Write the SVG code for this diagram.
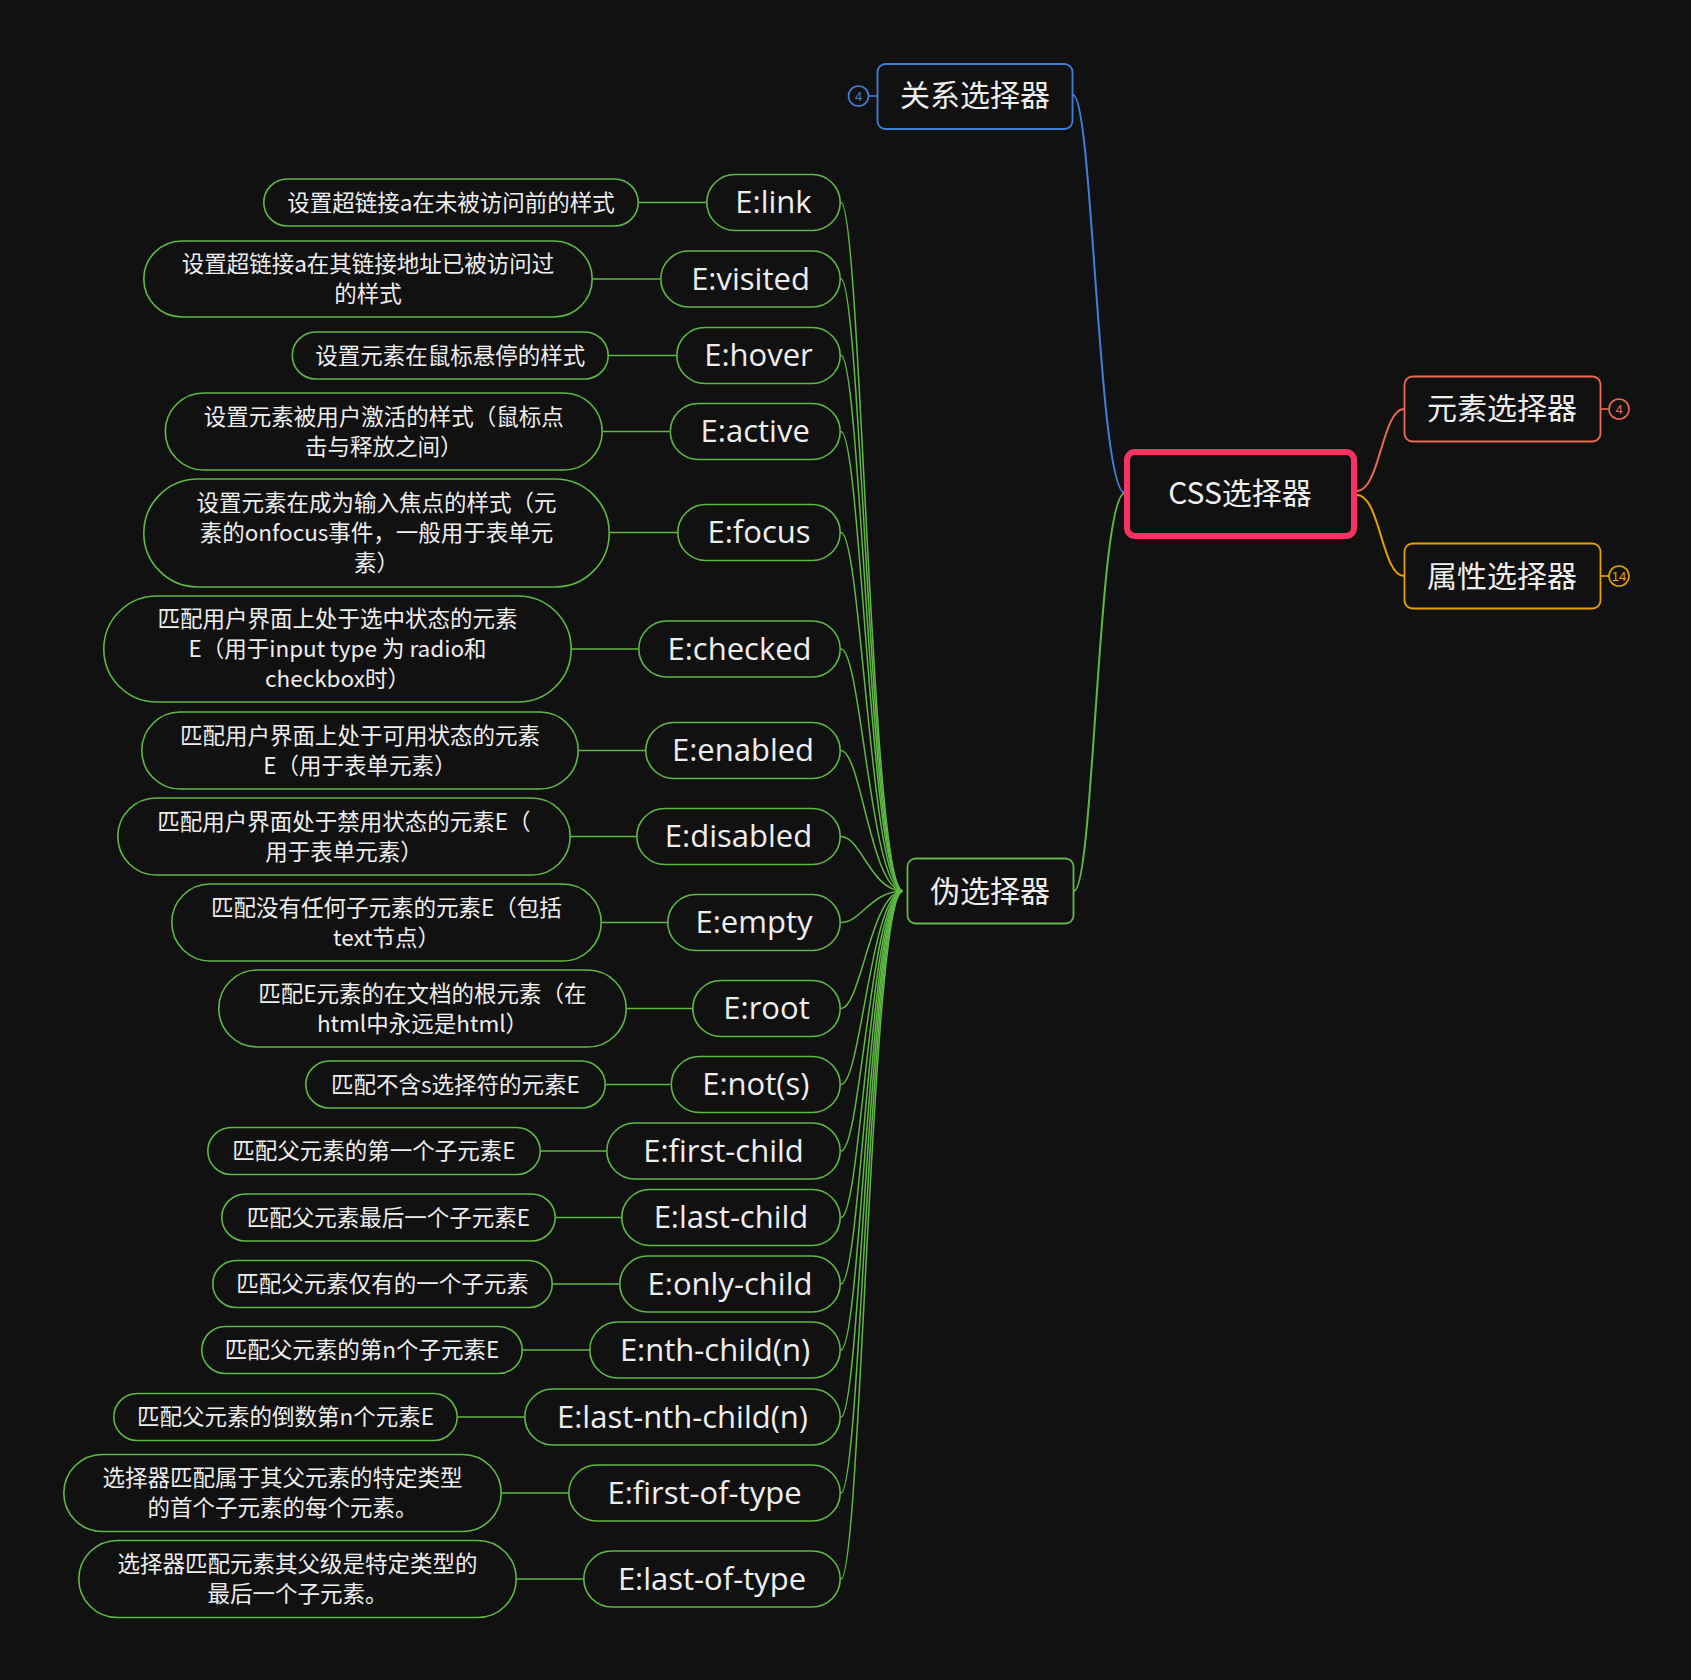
<svg xmlns="http://www.w3.org/2000/svg" width="1691" height="1680" viewBox="0 0 1691 1680">
<style>
.bg{fill:#111111}
.lbl{fill:#eeeeee;font-family:"Noto Sans CJK SC","Noto Sans",sans-serif;font-size:30px;text-anchor:middle}
.pill{fill:#111111;stroke:#5fb844;stroke-width:1.6}
.pt{fill:#eeeeee;font-family:"Open Sans","Noto Sans",sans-serif;font-size:31px;text-anchor:middle}
.dt{fill:#eeeeee;font-family:"Noto Sans CJK SC","Noto Sans",sans-serif;font-size:22.5px;text-anchor:middle}
.g{fill:none;stroke:#5fb844;stroke-width:1.5}
.badge{fill:#111111;stroke-width:1.6}
.bt{font-family:"Liberation Sans","Noto Sans",sans-serif;font-size:13px;text-anchor:middle}
</style>
<rect class="bg" x="0" y="0" width="1691" height="1680"/>
<g id="connectors">
<path d="M1073 95 C1093 95 1098 493 1125 493" fill="none" stroke="#3f7fd9" stroke-width="2"/>
<path d="M1074 891 C1094 891 1098 493 1125 493" fill="none" stroke="#5fb844" stroke-width="2"/>
<path d="M1357 491 C1380 491 1382 409 1404 409" fill="none" stroke="#ef6a55" stroke-width="2"/>
<path d="M1357 495 C1380 495 1382 576 1404 576" fill="none" stroke="#e6a100" stroke-width="2"/>
<path d="M868 96 H877" stroke="#3f7fd9" stroke-width="1.6"/>
<path d="M1601 409 H1609" stroke="#ef6a55" stroke-width="1.6"/>
<path d="M1601 576 H1609" stroke="#e6a100" stroke-width="1.6"/>
<g class="g">
<path d="M841 202.5 C861 202.5 871 891 903 891"/>
<path d="M841 279 C861 279 871 891 903 891"/>
<path d="M841 355.5 C861 355.5 871 891 903 891"/>
<path d="M841 431.5 C861 431.5 871 891 903 891"/>
<path d="M841 532.5 C861 532.5 871 891 903 891"/>
<path d="M841 649 C861 649 871 891 903 891"/>
<path d="M841 750.5 C861 750.5 871 891 903 891"/>
<path d="M841 836.5 C861 836.5 871 891 903 891"/>
<path d="M841 922.5 C861 922.5 871 891 903 891"/>
<path d="M841 1008.5 C861 1008.5 871 891 903 891"/>
<path d="M841 1084.5 C861 1084.5 871 891 903 891"/>
<path d="M841 1151 C861 1151 871 891 903 891"/>
<path d="M841 1217.5 C861 1217.5 871 891 903 891"/>
<path d="M841 1284 C861 1284 871 891 903 891"/>
<path d="M841 1350 C861 1350 871 891 903 891"/>
<path d="M841 1417 C861 1417 871 891 903 891"/>
<path d="M841 1493 C861 1493 871 891 903 891"/>
<path d="M841 1579 C861 1579 871 891 903 891"/>
<path d="M639 202.5 H706"/>
<path d="M593 279 H660"/>
<path d="M609 355.5 H676"/>
<path d="M603 431.5 H669.5"/>
<path d="M610 532.5 H677"/>
<path d="M572 649 H638"/>
<path d="M579 750.5 H645"/>
<path d="M571 836.5 H636"/>
<path d="M602 922.5 H667"/>
<path d="M627 1008.5 H692"/>
<path d="M606 1084.5 H670.5"/>
<path d="M541 1151 H606"/>
<path d="M556 1217.5 H621"/>
<path d="M553 1284 H619"/>
<path d="M523 1350 H589"/>
<path d="M458 1417 H524"/>
<path d="M502 1493 H568"/>
<path d="M517 1579 H583"/>
</g>
</g>
<g id="root">
<rect x="1127" y="452" width="227" height="84" rx="8" fill="#111111" stroke="#fa3263" stroke-width="6"/>
<text class="lbl" x="1240" y="504">CSS选择器</text>
</g>
<g id="relation">
<rect x="877.5" y="64" width="195" height="65" rx="8" fill="#111111" stroke="#3f7fd9" stroke-width="1.8"/>
<text class="lbl" x="975" y="106">关系选择器</text>
<circle class="badge" cx="858.5" cy="96" r="10" stroke="#3f7fd9"/>
<text class="bt" x="858.5" y="100.5" fill="#3f7fd9">4</text>
</g>
<g id="element">
<rect x="1404.5" y="376.5" width="196" height="65" rx="8" fill="#111111" stroke="#ef6a55" stroke-width="1.8"/>
<text class="lbl" x="1502" y="419">元素选择器</text>
<circle class="badge" cx="1619" cy="409" r="10" stroke="#ef6a55"/>
<text class="bt" x="1619" y="413.5" fill="#ef6a55">4</text>
</g>
<g id="attribute">
<rect x="1404.5" y="543.5" width="196" height="65" rx="8" fill="#111111" stroke="#e6a100" stroke-width="1.8"/>
<text class="lbl" x="1502" y="587">属性选择器</text>
<circle class="badge" cx="1619" cy="576" r="10" stroke="#e6a100"/>
<text class="bt" x="1619" y="580.5" fill="#e6a100">14</text>
</g>
<g id="pseudo">
<rect x="907.5" y="858.5" width="166" height="65" rx="8" fill="#111111" stroke="#5fb844" stroke-width="1.8"/>
<text class="lbl" x="990" y="902">伪选择器</text>
</g>
<g id="p-link"><rect class="pill" x="706.8" y="174.5" width="133.4" height="56" rx="28"/><text class="pt" x="773.5" y="213">E:link</text></g>
<g id="p-visited"><rect class="pill" x="660.8" y="251" width="179.4" height="56" rx="28"/><text class="pt" x="750.5" y="289.5">E:visited</text></g>
<g id="p-hover"><rect class="pill" x="676.8" y="327.5" width="163.4" height="56" rx="28"/><text class="pt" x="758.5" y="366">E:hover</text></g>
<g id="p-active"><rect class="pill" x="670.3" y="403.5" width="169.9" height="56" rx="28"/><text class="pt" x="755.2" y="442">E:active</text></g>
<g id="p-focus"><rect class="pill" x="677.8" y="504.5" width="162.4" height="56" rx="28"/><text class="pt" x="759" y="543">E:focus</text></g>
<g id="p-checked"><rect class="pill" x="638.8" y="621" width="201.4" height="56" rx="28"/><text class="pt" x="739.5" y="659.5">E:checked</text></g>
<g id="p-enabled"><rect class="pill" x="645.8" y="722.5" width="194.4" height="56" rx="28"/><text class="pt" x="743" y="761">E:enabled</text></g>
<g id="p-disabled"><rect class="pill" x="636.8" y="808.5" width="203.4" height="56" rx="28"/><text class="pt" x="738.5" y="847">E:disabled</text></g>
<g id="p-empty"><rect class="pill" x="667.8" y="894.5" width="172.4" height="56" rx="28"/><text class="pt" x="754" y="933">E:empty</text></g>
<g id="p-root"><rect class="pill" x="692.8" y="980.5" width="147.4" height="56" rx="28"/><text class="pt" x="766.5" y="1019">E:root</text></g>
<g id="p-not"><rect class="pill" x="671.3" y="1056.5" width="168.9" height="56" rx="28"/><text class="pt" x="755.8" y="1095">E:not(s)</text></g>
<g id="p-first-child"><rect class="pill" x="606.8" y="1123" width="233.4" height="56" rx="28"/><text class="pt" x="723.5" y="1161.5">E:first-child</text></g>
<g id="p-last-child"><rect class="pill" x="621.8" y="1189.5" width="218.4" height="56" rx="28"/><text class="pt" x="731" y="1228">E:last-child</text></g>
<g id="p-only-child"><rect class="pill" x="619.8" y="1256" width="220.4" height="56" rx="28"/><text class="pt" x="730" y="1294.5">E:only-child</text></g>
<g id="p-nth-child"><rect class="pill" x="589.8" y="1322" width="250.4" height="56" rx="28"/><text class="pt" x="715" y="1360.5">E:nth-child(n)</text></g>
<g id="p-last-nth-child"><rect class="pill" x="524.8" y="1389" width="315.4" height="56" rx="28"/><text class="pt" x="682.5" y="1427.5">E:last-nth-child(n)</text></g>
<g id="p-first-of-type"><rect class="pill" x="568.8" y="1465" width="271.4" height="56" rx="28"/><text class="pt" x="704.5" y="1503.5">E:first-of-type</text></g>
<g id="p-last-of-type"><rect class="pill" x="583.8" y="1551" width="256.4" height="56" rx="28"/><text class="pt" x="712" y="1589.5">E:last-of-type</text></g>
<g id="d-link"><rect class="pill" x="263.8" y="179" width="374.4" height="47" rx="23.5"/><text class="dt" x="451" y="210.5">设置超链接a在未被访问前的样式</text></g>
<g id="d-visited"><rect class="pill" x="143.8" y="241" width="448.4" height="76" rx="38"/><text class="dt" x="368" y="272">设置超链接a在其链接地址已被访问过</text><text class="dt" x="368" y="302">的样式</text></g>
<g id="d-hover"><rect class="pill" x="292.3" y="332" width="315.9" height="47" rx="23.5"/><text class="dt" x="450.2" y="363.5">设置元素在鼠标悬停的样式</text></g>
<g id="d-active"><rect class="pill" x="165.3" y="393" width="436.9" height="77" rx="38.5"/><text class="dt" x="383.7" y="424.5">设置元素被用户激活的样式（鼠标点</text><text class="dt" x="383.7" y="454.5">击与释放之间）</text></g>
<g id="d-focus"><rect class="pill" x="143.8" y="479" width="465.4" height="108" rx="54"/><text class="dt" x="376.5" y="511">设置元素在成为输入焦点的样式（元</text><text class="dt" x="376.5" y="541">素的onfocus事件，一般用于表单元</text><text class="dt" x="376.5" y="571">素）</text></g>
<g id="d-checked"><rect class="pill" x="103.8" y="596" width="467.4" height="106" rx="53"/><text class="dt" x="337.5" y="627">匹配用户界面上处于选中状态的元素</text><text class="dt" x="337.5" y="657">E（用于input type 为 radio和</text><text class="dt" x="337.5" y="687">checkbox时）</text></g>
<g id="d-enabled"><rect class="pill" x="141.8" y="712" width="436.4" height="77" rx="38.5"/><text class="dt" x="360" y="743.5">匹配用户界面上处于可用状态的元素</text><text class="dt" x="360" y="773.5">E（用于表单元素）</text></g>
<g id="d-disabled"><rect class="pill" x="117.8" y="798" width="452.4" height="77" rx="38.5"/><text class="dt" x="344" y="829.5">匹配用户界面处于禁用状态的元素E（</text><text class="dt" x="344" y="859.5">用于表单元素）</text></g>
<g id="d-empty"><rect class="pill" x="171.8" y="884" width="429.4" height="77" rx="38.5"/><text class="dt" x="386.5" y="915.5">匹配没有任何子元素的元素E（包括</text><text class="dt" x="386.5" y="945.5">text节点）</text></g>
<g id="d-root"><rect class="pill" x="218.8" y="970" width="407.4" height="77" rx="38.5"/><text class="dt" x="422.5" y="1001.5">匹配E元素的在文档的根元素（在</text><text class="dt" x="422.5" y="1031.5">html中永远是html）</text></g>
<g id="d-not"><rect class="pill" x="305.8" y="1061" width="299.4" height="47" rx="23.5"/><text class="dt" x="455.5" y="1092.5">匹配不含s选择符的元素E</text></g>
<g id="d-first-child"><rect class="pill" x="207.8" y="1127.5" width="332.4" height="47" rx="23.5"/><text class="dt" x="374" y="1159">匹配父元素的第一个子元素E</text></g>
<g id="d-last-child"><rect class="pill" x="221.8" y="1194" width="333.4" height="47" rx="23.5"/><text class="dt" x="388.5" y="1225.5">匹配父元素最后一个子元素E</text></g>
<g id="d-only-child"><rect class="pill" x="212.8" y="1260.5" width="339.4" height="47" rx="23.5"/><text class="dt" x="382.5" y="1292">匹配父元素仅有的一个子元素</text></g>
<g id="d-nth-child"><rect class="pill" x="201.8" y="1326.5" width="320.4" height="47" rx="23.5"/><text class="dt" x="362" y="1358">匹配父元素的第n个子元素E</text></g>
<g id="d-last-nth-child"><rect class="pill" x="113.8" y="1393.5" width="343.4" height="47" rx="23.5"/><text class="dt" x="285.5" y="1425">匹配父元素的倒数第n个元素E</text></g>
<g id="d-first-of-type"><rect class="pill" x="63.8" y="1454.5" width="437.4" height="77" rx="38.5"/><text class="dt" x="282.5" y="1486">选择器匹配属于其父元素的特定类型</text><text class="dt" x="282.5" y="1516">的首个子元素的每个元素。</text></g>
<g id="d-last-of-type"><rect class="pill" x="78.8" y="1540.5" width="437.4" height="77" rx="38.5"/><text class="dt" x="297.5" y="1572">选择器匹配元素其父级是特定类型的</text><text class="dt" x="297.5" y="1602">最后一个子元素。</text></g>
</svg>
